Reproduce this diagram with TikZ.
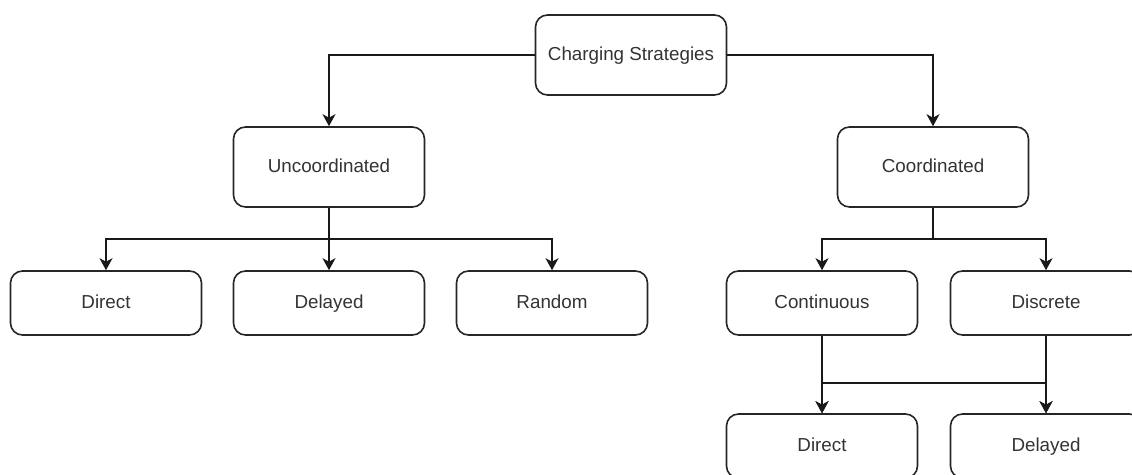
\documentclass[tikz,border=0pt]{standalone}
\usepackage{fontspec}
\setmainfont{Liberation Sans}
\usetikzlibrary{arrows.meta}

\tikzset{
  box/.style={draw=black!85, line width=1.6pt, rounded corners=12pt, minimum width=191pt, minimum height=64pt, text height=13.5pt, text depth=3.5pt, text=black!80, font=\fontsize{18.8}{22}\selectfont},
  bigbox/.style={box, minimum height=80pt},
  link/.style={draw=black!90, line width=1.6pt, -{Stealth[length=12pt,width=13pt,inset=3.5pt]}}
}

\begin{document}
\begin{tikzpicture}[x=1pt,y=-1pt]
\useasboundingbox (0,0) rectangle (1132,474);

% top levels
\node[bigbox] (root) at (631,55) {Charging Strategies};
\node[bigbox] (unco) at (329,167) {Uncoordinated};
\node[bigbox] (coor) at (933,167) {Coordinated};

% uncoordinated strategies
\node[box] (udirect) at (106,303) {Direct};
\node[box] (udelayed) at (329,303) {Delayed};
\node[box] (urandom) at (552,303) {Random};

% coordinated strategies
\node[box] (ccont) at (822,303) {Continuous};
\node[box] (cdisc) at (1046,303) {Discrete};
\node[box] (cdirect) at (822,446) {Direct};
\node[box] (cdelayed) at (1046,446) {Delayed};

\coordinate (ubus) at (329,239);
\coordinate (cbus) at (933,239);
\coordinate (lbus) at (822,383);
\coordinate (rbus) at (1046,383);

\draw[link] (root.west) -| (unco.north);
\draw[link] (root.east) -| (coor.north);

\draw[link] (unco.south) -- (ubus) -| (udirect.north);
\draw[link] (unco.south) -- (udelayed.north);
\draw[link] (unco.south) -- (ubus) -| (urandom.north);

\draw[link] (coor.south) -- (cbus) -| (ccont.north);
\draw[link] (coor.south) -- (cbus) -| (cdisc.north);

\draw[link] (ccont.south) -- (cdirect.north);
\draw[link] (ccont.south) -- (lbus) -- (rbus) -- (cdelayed.north);
\draw[link] (cdisc.south) -- (cdelayed.north);
\draw[link] (cdisc.south) -- (rbus) -- (lbus) -- (cdirect.north);

\end{tikzpicture}
\end{document}
